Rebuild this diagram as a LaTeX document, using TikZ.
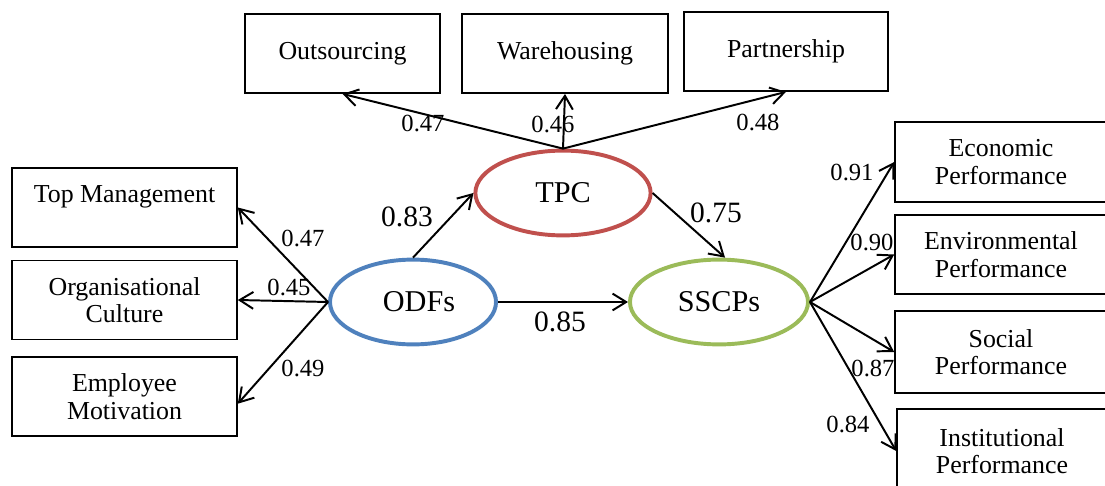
\documentclass[tikz,border=0pt]{standalone}
\usepackage{fontspec}
\setmainfont{Liberation Serif}
\usepackage{tikz}
\usetikzlibrary{arrows.meta,shapes.geometric}
\definecolor{TpcRed}{HTML}{C0504D}
\definecolor{OdfBlue}{HTML}{4F81BD}
\definecolor{SscGreen}{HTML}{9BBB59}
\tikzset{
  item/.style={draw,line width=1.1pt,rectangle,inner sep=0pt,minimum height=1.98cm,
    align=center,font=\fontsize{18.4}{19.5}\selectfont},
  latent/.style={ellipse,line width=2.8pt,inner sep=0pt,font=\fontsize{21.5}{24}\selectfont,
    minimum height=2.12cm},
  load/.style={-{Straight Barb[length=3.4mm,width=4.2mm]},line width=1.4pt},
  coef/.style={inner sep=0pt,font=\fontsize{17.5}{19}\selectfont},
  path coef/.style={inner sep=0pt,font=\fontsize{21}{22}\selectfont}
}
\begin{document}
\begin{tikzpicture}[x=0.025cm,y=-0.025cm]
  \useasboundingbox (0,0) rectangle (1105,486);
  % indicators of TPC
  \node[item,minimum width=4.875cm] (outs) at (342.5,53.5) {Outsourcing};
  \node[item,minimum width=5.15cm] (ware) at (565,53.5) {Warehousing};
  \node[item,minimum width=5.1cm] (partner) at (786,51.5) {Partnership};
  % indicators of ODFs
  \node[item,minimum width=5.625cm] (topmgmt) at (124.5,207.5) {Top Management\\\mbox{}};
  \node[item,minimum width=5.625cm] (orgcult) at (124.5,300) {Organisational\\Culture};
  \node[item,minimum width=5.625cm] (empmot) at (124.5,396.5) {Employee\\Motivation};
  % indicators of SSCPs
  \node[item,minimum width=5.3cm,minimum height=2cm] (econ) at (1001,162) {Economic\\Performance};
  \node[item,minimum width=5.3cm] (envir) at (1001,254.5) {Environmental\\Performance};
  \node[item,minimum width=5.3cm,minimum height=2.05cm] (social) at (1001,352) {Social\\Performance};
  \node[item,minimum width=5.25cm,minimum height=2.1cm] (instit) at (1002,451) {Institutional\\Performance};
  % latent constructs
  \node[latent,draw=TpcRed,minimum width=4.38cm] (tpc) at (563,193) {TPC};
  \node[latent,draw=OdfBlue,minimum width=4.15cm] (odfs) at (413,302) {\hspace{0.3cm}ODFs};
  \node[latent,draw=SscGreen,minimum width=4.45cm] (sscps) at (719,302) {SSCPs};

  \draw[load] (tpc.north) -- (outs.south);
  \draw[load] (tpc.north) -- (ware.south);
  \draw[load] (tpc.north) -- (partner.south);
  \draw[load] (odfs.west) -- (topmgmt.east);
  \draw[load] (odfs.west) -- (orgcult.east);
  \draw[load] (odfs.west) -- ([yshift=-0.18cm]empmot.east);
  \draw[load] (sscps.east) -- (econ.west);
  \draw[load] (sscps.east) -- (envir.west);
  \draw[load] (sscps.east) -- (social.west);
  \draw[load] (sscps.east) -- (instit.west);
  \draw[load] (odfs.north) -- (tpc.west);
  \draw[load] (tpc.east) -- ([xshift=0.15cm]sscps.north);
  \draw[load] (odfs.east) -- (sscps.west);

  \node[coef] (c-outs) at (423,123) {0.47};
  \node[coef] (c-ware) at (553,124) {0.46};
  \node[coef] (c-partner) at (758,122) {0.48};
  \node[coef] (c-topmgmt) at (303,238) {0.47};
  \node[coef] (c-orgcult) at (289,287) {0.45};
  \node[coef] (c-empmot) at (303,368) {0.49};
  \node[coef] (c-econ) at (852,172) {0.91};
  \node[coef] (c-envir) at (872,242) {0.90};
  \node[coef] (c-social) at (873,368) {0.87};
  \node[coef] (c-instit) at (848,424) {0.84};
  \node[path coef] (c-odftpc) at (407,217) {0.83};
  \node[path coef] (c-tpcssc) at (716,213) {0.75};
  \node[path coef] (c-odfssc) at (560,322) {0.85};
\end{tikzpicture}
\end{document}
